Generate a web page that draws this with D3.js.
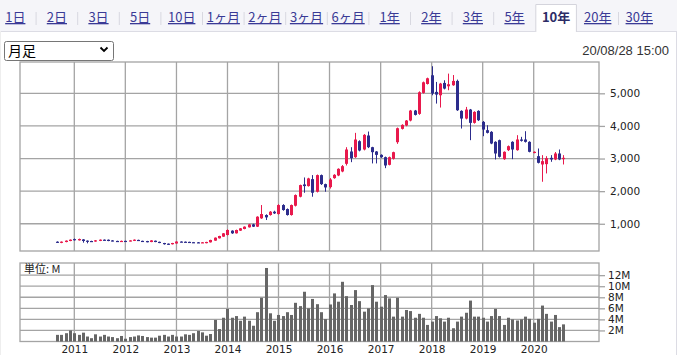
<!DOCTYPE html>
<html><head><meta charset="utf-8">
<script src="https://cdn.jsdelivr.net/npm/d3@7/dist/d3.min.js"></script>
<style>
html,body{margin:0;padding:0;background:#fff;}
svg{display:block;}
</style></head>
<body>
<svg id="c" width="677" height="355"></svg>
<script>
// ---------- DATA ----------
const startMonth = "2010-09"; // first candle
const open  = [450,415,440,471,530,492,520,482,472,455,475,512,510,490,474,462,476,466,478,505,476,470,440,480,446,410,390,372,395,455,450,445,436,432,415,418,431,483,554,605,
656,789,707,789,840,891,982,911,1166,1268,1268,1370,1298,1574,1451,1268,1553,1829,2206,2155,2369,1982,2492,2216,2124,2399,2481,2603,2838,3216,
3042,3532,3277,3706,3348,3216,3113,3042,2807,2991,3501,3910,4012,4165,4471,4369,5012,5287,5553,5043,4940,5318,5216,5247,5380,4461,4226,4502,4094,4461,
4124,3869,3818,3512,3563,2981,3257,3512,3257,3584,3584,3512,3175,3073,2818,2828,3022,2971,3155,2981];
const high  = [462,458,490,520,548,545,530,490,480,500,520,520,518,498,480,485,482,495,520,512,482,476,498,485,452,415,395,415,462,462,456,450,442,440,438,448,510,580,632,715,
830,800,820,870,920,995,1000,1230,1574,1290,1390,1400,1600,1600,1470,1590,1900,2200,2420,2410,2492,2510,2510,2230,2400,2520,2700,2800,3348,3348,
3787,3560,3750,3828,3360,3230,3130,3060,3060,3210,3950,4050,4180,4490,4490,5060,5360,5480,5830,5349,5320,5400,5604,5560,5420,4480,4583,4520,4450,4480,
4150,4022,3840,3530,3580,3220,3400,3530,3716,3665,3838,3530,3220,3308,3104,3073,3104,3200,3277,3104];
const low   = [410,405,432,465,485,485,420,400,455,450,468,485,465,462,455,455,458,460,470,475,448,430,435,435,405,360,355,365,390,430,425,410,420,410,410,400,425,478,548,598,
640,690,700,780,830,885,900,900,1150,1115,1250,1300,1280,1400,1250,1250,1530,1810,1951,2140,1829,1960,2190,1982,2080,2380,2460,2580,2787,2889,
3020,3220,3250,3320,2850,2850,3020,2705,2790,2970,3450,3890,3990,4140,4320,4340,4990,5270,4940,4685,4563,5120,5094,5230,4460,3920,4200,3563,4070,4150,
3685,3770,3440,2971,3030,2960,3230,2981,3240,3520,3490,3190,3160,2850,2288,2543,2900,2950,2950,2818];
const close = [420,451,482,512,495,533,471,465,463,492,512,492,471,471,462,475,465,490,512,480,455,435,490,440,410,375,370,410,455,435,432,415,425,415,432,442,503,574,625,707,
809,707,809,860,911,982,911,1217,1298,1196,1370,1319,1574,1421,1268,1574,1880,2186,2155,2390,1951,2492,2216,2114,2358,2501,2685,2766,3277,3011,
3583,3246,3726,3348,3195,3113,3042,2787,3042,3195,3930,4032,4165,4471,4338,5032,5338,5461,4992,4961,5298,5145,5278,5380,4481,4226,4502,4094,4430,4175,
3889,3788,3461,3155,3053,3206,3379,3277,3584,3543,3512,3206,3206,2869,2920,3012,2971,3155,2971,3022];
const volumeM = [1.2,1.2,1.5,2.0,1.5,1.2,1.6,0.9,0.6,1.3,0.9,1.2,0.9,0.8,0.6,1.0,0.5,0.8,0.9,1.1,1.0,0.8,0.7,0.7,1.05,1.2,0.9,1.2,0.9,0.9,1.3,1.2,1.5,1.9,1.65,1.05,1.35,3.9,2.25,4.3,
5.9,4.3,4.6,3.75,4.5,3.75,2.85,5.3,7.9,13.3,5.1,3.75,4.8,4.6,5.3,4.8,7.0,6.4,9.0,6.0,7.7,6.75,5.3,4.05,6.7,8.7,7.2,10.8,8.2,6.6,
9.3,7.3,5.4,6.0,10.2,7.2,6.3,8.4,7.8,4.5,7.9,4.5,5.7,5.5,4.3,5.0,4.3,3.0,3.6,4.6,4.2,3.6,4.3,2.4,3.6,4.5,5.2,7.4,4.5,4.5,
4.3,3.6,4.6,5.9,4.6,3.0,4.3,4.0,3.8,4.0,4.5,4.1,3.4,4.1,6.5,5.0,3.6,4.8,2.6,3.1];
const yearTicks = [2011,2012,2013,2014,2015,2016,2017,2018,2019,2020];
const priceTicks = [1000,2000,3000,4000,5000];
const volTicksM = [2,4,6,8,10,12];
const tabs = ["1日","2日","3日","5日","10日","1ヶ月","2ヶ月","3ヶ月","6ヶ月","1年","2年","3年","5年","10年","20年","30年"];
const selectedTab = "10年";
const periodLabel = "月足";
const unitLabel = "単位: M";
const timestamp = "20/08/28 15:00";

// ---------- BUILD ----------
const [sy, sm] = startMonth.split("-").map(Number);
const rows = close.map((c,i)=>({
  date: new Date(sy, sm-1+i, 1),
  o: open[i], h: high[i], l: low[i], c: c, v: volumeM[i]*1e6
}));

const svg = d3.select("#c");
const axisFont = "'DejaVu Sans', Verdana, sans-serif";
const jpFont = "'Noto Sans CJK JP', sans-serif";

// tab bar
svg.append("rect").attr("x",0).attr("y",0).attr("width",677).attr("height",32).attr("fill","#f5f5f9");
const tabW = 41.6, tab0 = -5.5;
const tabX = d3.scaleLinear().domain([0,1]).range([tab0, tab0+tabW]);
const selIdx = tabs.indexOf(selectedTab);
svg.append("line").attr("x1",0).attr("x2",tabX(selIdx)).attr("y1",31.5).attr("y2",31.5).attr("stroke","#dcdce4");
svg.append("line").attr("x1",tabX(selIdx+1)).attr("x2",677).attr("y1",31.5).attr("y2",31.5).attr("stroke","#dcdce4");
svg.append("path")
  .attr("d",`M${tabX(selIdx)+0.5},32 V4.5 H${tabX(selIdx+1)-0.5} V32`)
  .attr("fill","#fff").attr("stroke","#d4d4dc");
tabs.forEach((t,i)=>{
  if(i>0 && i!==selIdx && i!==selIdx+1){
    svg.append("line").attr("x1",tabX(i)).attr("x2",tabX(i)).attr("y1",12).attr("y2",25).attr("stroke","#d8d8e0");
  }
  svg.append("text").attr("x",tabX(i+0.5)).attr("y",22)
    .attr("text-anchor","middle").attr("font-family",jpFont).attr("font-size",13)
    .attr("fill", i===selIdx ? "#2c2c66" : "#3a3a96")
    .attr("font-weight", i===selIdx ? "bold" : "normal")
    .attr("text-decoration", i===selIdx ? "none" : "underline")
    .text(t);
});
svg.append("line").attr("x1",676.5).attr("x2",676.5).attr("y1",31).attr("y2",355).attr("stroke","#dcdce4");
svg.append("line").attr("x1",0.5).attr("x2",0.5).attr("y1",31).attr("y2",355).attr("stroke","#eeeeee");

// select box
svg.append("rect").attr("x",4.5).attr("y",41.5).attr("width",109).attr("height",19).attr("rx",2)
  .attr("fill","#fff").attr("stroke","#767676");
svg.append("text").attr("x",8).attr("y",56).attr("font-family",jpFont).attr("font-size",14).attr("fill","#000").text(periodLabel);
svg.append("path").attr("d","M100.5,47.5 L104,51 L107.5,47.5").attr("fill","none").attr("stroke","#000").attr("stroke-width",1.8);
svg.append("text").attr("x",669).attr("y",55).attr("text-anchor","end")
  .attr("font-family","'Liberation Sans', Arial, sans-serif").attr("font-size",13).attr("fill","#333").text(timestamp);

// scales
const L = 20, R = 599;
const x = d3.scaleTime().domain([new Date(2011,0,1), new Date(2020,0,1)]).range([74.3, 533.7]);
const y = d3.scaleLinear().domain([165, 5960]).range([251, 62]);
const vy = d3.scaleLinear().domain([0, 14.2e6]).range([341.5, 263]);
const yearDates = yearTicks.map(yr=>new Date(yr,0,1));
const gridColor = "#a4a4a4";

// main box + grid
const main = svg.append("g");
main.selectAll(".vg").data(yearDates).join("line")
  .attr("x1",d=>x(d)).attr("x2",d=>x(d)).attr("y1",62).attr("y2",251)
  .attr("stroke",gridColor).attr("stroke-width",1.3);
main.selectAll(".hg").data(priceTicks).join("line")
  .attr("x1",L).attr("x2",R).attr("y1",d=>y(d)).attr("y2",d=>y(d))
  .attr("stroke",gridColor).attr("stroke-width",1.3);
main.append("rect").attr("x",L).attr("y",62).attr("width",R-L).attr("height",251-62)
  .attr("fill","none").attr("stroke",gridColor).attr("stroke-width",1.3);

const yAxis = d3.axisRight(y).tickValues(priceTicks).tickSize(6).tickPadding(5).tickFormat(d3.format(","));
const ya = svg.append("g").attr("transform",`translate(${R},0)`).call(yAxis);
ya.select(".domain").remove();
ya.selectAll("line").attr("stroke",gridColor).attr("stroke-width",1.3);
ya.selectAll("text").attr("font-family",axisFont).attr("font-size",10.5).attr("fill","#222");

// candles
const upC = "#e8194c", dnC = "#2c2c8c";
const cg = svg.append("g");
cg.selectAll(".wick").data(rows).join("line")
  .attr("x1",d=>Math.round(x(d.date))+0.5).attr("x2",d=>Math.round(x(d.date))+0.5)
  .attr("y1",d=>y(d.h)).attr("y2",d=>y(d.l))
  .attr("stroke",d=>d.c>=d.o?upC:dnC).attr("stroke-width",1);
cg.selectAll(".body").data(rows).join("rect")
  .attr("x",d=>Math.round(x(d.date))-1).attr("width",3)
  .attr("y",d=>y(Math.max(d.o,d.c)))
  .attr("height",d=>Math.max(1.2, Math.abs(y(d.o)-y(d.c))))
  .attr("fill",d=>d.c>=d.o?upC:dnC);

// volume box
const vg = svg.append("g");
vg.selectAll(".vv").data(yearDates).join("line")
  .attr("x1",d=>x(d)).attr("x2",d=>x(d)).attr("y1",263).attr("y2",341.5)
  .attr("stroke",gridColor).attr("stroke-width",1.3);
vg.selectAll(".vh").data(volTicksM).join("line")
  .attr("x1",L).attr("x2",R).attr("y1",d=>vy(d*1e6)).attr("y2",d=>vy(d*1e6))
  .attr("stroke",gridColor).attr("stroke-width",1.3);
vg.append("rect").attr("x",L).attr("y",263).attr("width",R-L).attr("height",341.5-263)
  .attr("fill","none").attr("stroke",gridColor).attr("stroke-width",1.3);
vg.selectAll(".bar").data(rows).join("rect")
  .attr("x",d=>Math.round(x(d.date))-1).attr("width",3)
  .attr("y",d=>vy(d.v)).attr("height",d=>vy(0)-vy(d.v))
  .attr("fill","#666");
svg.append("text").attr("x",24).attr("y",273).attr("font-family",jpFont).attr("font-size",11).attr("fill","#222").text(unitLabel);

const vAxis = d3.axisRight(vy).tickValues(volTicksM.map(v=>v*1e6)).tickSize(6).tickPadding(3).tickFormat(d=>(d/1e6)+"M");
const va = svg.append("g").attr("transform",`translate(${R},0)`).call(vAxis);
va.select(".domain").remove();
va.selectAll("line").attr("stroke",gridColor).attr("stroke-width",1.3);
va.selectAll("text").attr("font-family",axisFont).attr("font-size",10.5).attr("fill","#222");

const xAxis = d3.axisBottom(x).tickValues(yearDates).tickSize(0).tickPadding(4).tickFormat(d3.timeFormat("%Y"));
const xa = svg.append("g").attr("transform","translate(0,341.5)").call(xAxis);
xa.select(".domain").remove();
xa.selectAll("text").attr("font-family",axisFont).attr("font-size",10.5).attr("fill","#222");
</script>
</body></html>
